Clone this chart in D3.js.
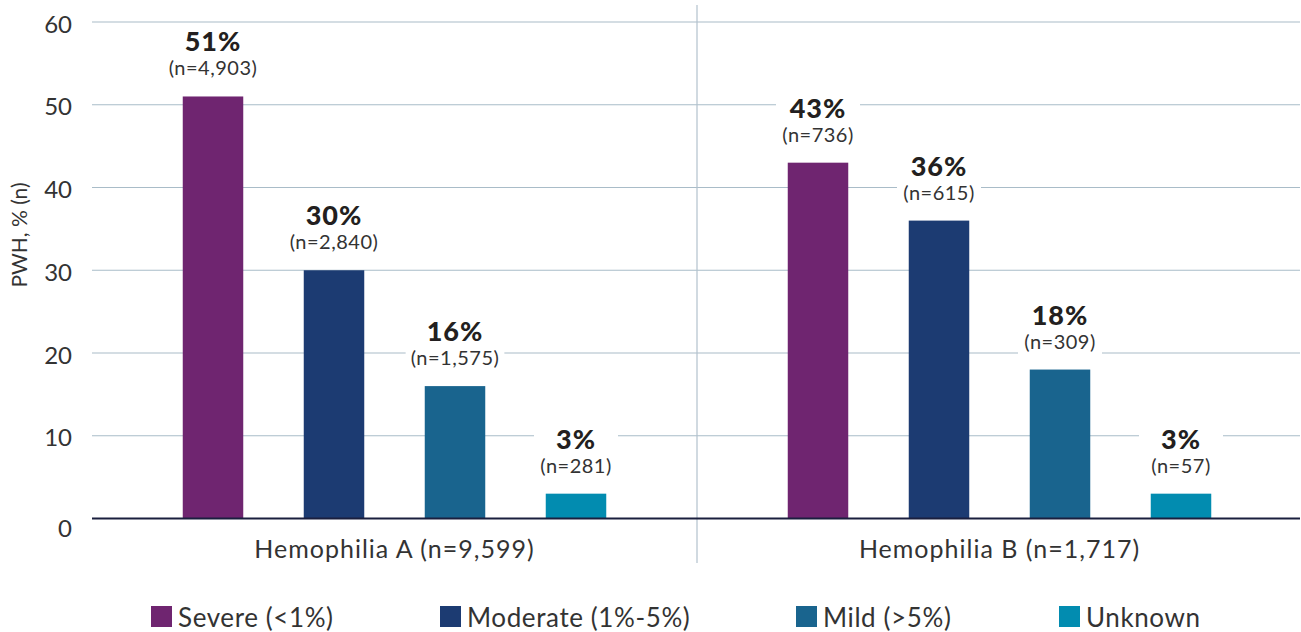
<!DOCTYPE html>
<html>
<head>
<meta charset="utf-8">
<script src="https://cdn.jsdelivr.net/npm/d3@7"></script>
<style>
  html, body { margin: 0; padding: 0; background: #fff; }
  svg { display: block; font-family: Lato, "Open Sans", sans-serif; }
</style>
</head>
<body>
<svg id="chart" width="1301" height="632"></svg>
<script>
// Haemophilia severity distribution, per haemophilia type
const groups = ["Hemophilia A (n=9,599)", "Hemophilia B (n=1,717)"];
const severities = ["Severe (<1%)", "Moderate (1%-5%)", "Mild (>5%)", "Unknown"];
const percentA = [51, 30, 16, 3];
const percentB = [43, 36, 18, 3];
const countA = ["4,903", "2,840", "1,575", "281"];
const countB = ["736", "615", "309", "57"];
const yTicks = [0, 10, 20, 30, 40, 50, 60];
const colors = ["#6f2570", "#1c3b72", "#19648e", "#028cb0"];

const rows = [];
[percentA, percentB].forEach((vals, gi) => {
  vals.forEach((v, si) => {
    rows.push({ group: groups[gi], sev: severities[si], value: v,
                n: (gi === 0 ? countA : countB)[si], color: colors[si] });
  });
});

const svg = d3.select("#chart");
const left = 92, right = 1302, gridRight = 1300;
const yTop = 22, yBottom = 518.5;

const x0 = d3.scaleBand().domain(groups).range([left, right]).padding(0);
const x1 = d3.scaleBand().domain(severities).range([0, x0.bandwidth()])
  .paddingInner(0.5).paddingOuter(0.75);
const y = d3.scaleLinear().domain([0, 60]).range([yBottom, yTop]);

// gridlines
svg.append("g").selectAll("line").data(yTicks.filter(t => t > 0)).join("line")
  .attr("x1", left).attr("x2", gridRight)
  .attr("y1", d => y(d)).attr("y2", d => y(d))
  .attr("stroke", "#a9bcc8").attr("stroke-width", 1.2);

// divider between the two groups
svg.append("line")
  .attr("x1", x0(groups[1])).attr("x2", x0(groups[1]))
  .attr("y1", 5).attr("y2", 563)
  .attr("stroke", "#b3c2cd").attr("stroke-width", 1.2);

// y axis labels
const yAxis = d3.axisLeft(y).tickValues(yTicks).tickSize(0).tickPadding(20);
const ya = svg.append("g").attr("transform", `translate(${left},0)`).call(yAxis);
ya.select(".domain").remove();
ya.selectAll("text")
  .attr("font-family", "Lato, sans-serif")
  .attr("font-size", 24).attr("fill", "#333")
  .attr("dy", d => d === 0 ? "0.75em" : "0.42em");

// y axis title
svg.append("text")
  .attr("transform", "translate(27,235) rotate(-90)")
  .attr("text-anchor", "middle")
  .attr("font-size", 21).attr("fill", "#333")
  .text("PWH, % (n)");

// bars
svg.append("g").selectAll("rect").data(rows).join("rect")
  .attr("x", d => x0(d.group) + x1(d.sev))
  .attr("width", x1.bandwidth())
  .attr("y", d => y(d.value))
  .attr("height", d => y(0) - y(d.value))
  .attr("fill", d => d.color);

// baseline axis
svg.append("line")
  .attr("x1", left).attr("x2", gridRight)
  .attr("y1", y(0)).attr("y2", y(0))
  .attr("stroke", "#1a1f3e").attr("stroke-width", 2);

// value labels with white boxes that break the gridlines
const lab = svg.append("g").selectAll("g").data(rows).join("g")
  .attr("transform", d => `translate(${x0(d.group) + x1(d.sev) + x1.bandwidth() / 2},${y(d.value)})`);
lab.append("rect").attr("fill", "#fff");
lab.append("text")
  .attr("class", "pct")
  .attr("text-anchor", "middle").attr("y", -45)
  .attr("font-size", 27).attr("font-weight", 900).attr("fill", "#231f20")
  .attr("letter-spacing", 1)
  .text(d => d.value + "%");
lab.append("text")
  .attr("class", "cnt")
  .attr("text-anchor", "middle").attr("y", -21)
  .attr("font-size", 20).attr("fill", "#333")
  .attr("letter-spacing", 0.5)
  .text(d => `(n=${d.n})`);
lab.each(function () {
  const g = d3.select(this);
  const w = Math.max(84, g.select(".cnt").node().getComputedTextLength() + 10);
  g.select("rect").attr("x", -w / 2).attr("width", w).attr("y", -70).attr("height", 56);
});

// group labels
svg.append("g").selectAll("text").data(groups).join("text")
  .attr("x", d => x0(d) + x0.bandwidth() / 2).attr("y", 558)
  .attr("text-anchor", "middle")
  .attr("font-size", 25).attr("fill", "#333")
  .attr("letter-spacing", 1)
  .text(d => d);

// legend
const legendX = [151, 440, 796, 1059];
const lg = svg.append("g").selectAll("g").data(severities).join("g")
  .attr("transform", (d, i) => `translate(${legendX[i]},606)`);
lg.append("rect").attr("width", 21).attr("height", 21).attr("fill", (d, i) => colors[i]);
lg.append("text").attr("x", 27).attr("y", 21)
  .attr("font-size", 26).attr("fill", "#333")
  .attr("letter-spacing", 0.6)
  .text(d => d);
</script>
</body>
</html>
